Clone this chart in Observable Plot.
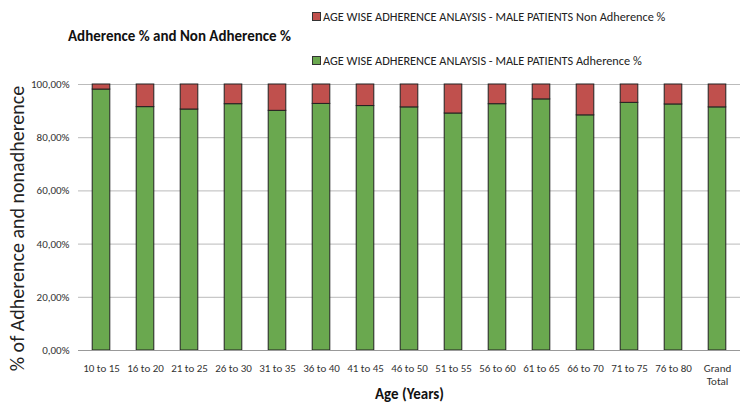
<!DOCTYPE html>
<html>
<head>
<meta charset="utf-8">
<script src="https://cdn.jsdelivr.net/npm/d3@7"></script>
<script src="https://cdn.jsdelivr.net/npm/@observablehq/plot@0.6"></script>
<style>
  html, body { margin: 0; padding: 0; background: #fff; }
  #wrap { position: relative; width: 750px; height: 415px; font-family: Carlito, "Liberation Sans Narrow", Lato, sans-serif; }
  #title { position: absolute; left: 68px; top: 27px; font-size: 15px; font-weight: bold; color: #111; }
  .leg { position: absolute; left: 312px; font-size: 12.3px; color: #222; display: flex; align-items: center; }
  .sw { width: 7px; height: 7px; margin-right: 2px; border: 1px solid #333; }
</style>
</head>
<body>
<div id="wrap">
  <div id="title">Adherence % and Non Adherence %</div>
  <div class="leg" style="top:9px"><span class="sw" style="background:#C0504D"></span>AGE WISE ADHERENCE ANLAYSIS - MALE PATIENTS Non Adherence %</div>
  <div class="leg" style="top:53px"><span class="sw" style="background:#6AA84F"></span>AGE WISE ADHERENCE ANLAYSIS - MALE PATIENTS Adherence %</div>
  <div id="chart"></div>
</div>
<script>
const categories = ["10 to 15","16 to 20","21 to 25","26 to 30","31 to 35","36 to 40","41 to 45","46 to 50","51 to 55","56 to 60","61 to 65","66 to 70","71 to 75","76 to 80","Grand Total"];
const adherence = [98.1, 91.5, 90.6, 92.6, 90.1, 92.7, 91.9, 91.4, 89.1, 92.6, 94.4, 88.4, 93.1, 92.5, 91.4];
const nonAdherence = [1.9, 8.5, 9.4, 7.4, 9.9, 7.3, 8.1, 8.6, 10.9, 7.4, 5.6, 11.6, 6.9, 7.5, 8.6];
const seriesNames = ["Adherence %", "Non Adherence %"];
const seriesColors = ["#6AA84F", "#C0504D"];
const yTicks = [0, 20, 40, 60, 80, 100];

const rows = [];
categories.forEach((c, i) => {
  rows.push({cat: c, series: seriesNames[0], value: adherence[i]});
  rows.push({cat: c, series: seriesNames[1], value: nonAdherence[i]});
});

const fmt = v => v.toFixed(2).replace(".", ",") + "%";
const fontFam = 'Carlito, "Liberation Sans Narrow", Lato, sans-serif';

const chart = Plot.plot({
  width: 750,
  height: 415,
  marginTop: 84,
  marginBottom: 65,
  marginLeft: 78,
  marginRight: 10,
  style: {fontFamily: fontFam, fontSize: "11px", color: "#333", background: "transparent"},
  x: {domain: categories, padding: 0, label: null},
  y: {domain: [0, 100], label: null},
  color: {domain: seriesNames, range: seriesColors},
  marks: [
    Plot.gridY(yTicks, {stroke: "#bbb", strokeOpacity: 1}),
    Plot.barY(rows, Plot.stackY({x: "cat", y: "value", fill: "series", stroke: "#222", strokeWidth: 1, insetLeft: 13.2, insetRight: 13.2, order: seriesNames})),
    Plot.ruleX([0], {frameAnchor: "left", stroke: "#999"}),
    Plot.ruleY([0], {stroke: "#999"}),
    Plot.axisY({ticks: yTicks, tickFormat: fmt, tickSize: 0, tickPadding: 9, label: null, fontSize: 11}),
    Plot.axisX({tickSize: 0, tickPadding: 12, label: null, fontSize: 11, lineHeight: 1.2,
      tickFormat: d => d === "Grand Total" ? "Grand\nTotal" : d}),
    Plot.text(["% of Adherence and nonadherence"], {frameAnchor: "left", textAnchor: "middle", rotate: -90, dx: -61, dy: 11, fontSize: 20, fill: "#222"}),
    Plot.text(["Age (Years)"], {frameAnchor: "bottom", dy: 48, fontSize: 15, fontWeight: "bold", fill: "#111"})
  ]
});
chart.style.position = "absolute";
chart.style.left = "0";
chart.style.top = "0";
document.getElementById("chart").appendChild(chart);
</script>
</body>
</html>
